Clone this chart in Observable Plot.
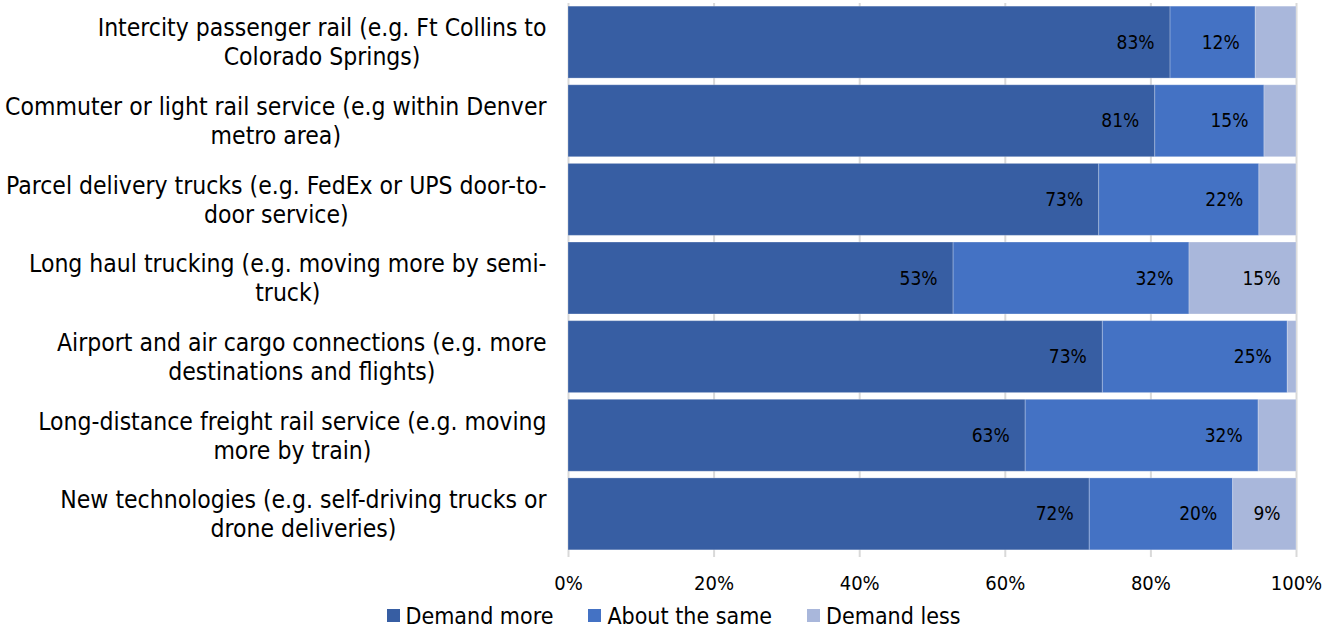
<!DOCTYPE html>
<html>
<head>
<meta charset="utf-8">
<script src="https://cdn.jsdelivr.net/npm/d3@7"></script>
<script src="https://cdn.jsdelivr.net/npm/@observablehq/plot@0.6"></script>
<style>
  html, body { margin: 0; padding: 0; background: #fff; }
  body { width: 1335px; font-family: "DejaVu Sans Condensed", "DejaVu Sans", sans-serif; }
  #legend { display: flex; justify-content: center; align-items: center; gap: 35px; height: 31px; font-size: 23px; color: #000; margin-left: 12px; }
  #legend .item { display: flex; align-items: center; gap: 6px; }
  #legend .sw { width: 13px; height: 13px; display: inline-block; }
</style>
</head>
<body>
<div id="chart"></div>
<div id="legend"></div>
<script>
const categories = [
  "Intercity passenger rail (e.g. Ft Collins to Colorado Springs)",
  "Commuter or light rail service (e.g within Denver metro area)",
  "Parcel delivery trucks (e.g. FedEx or UPS door-to-door service)",
  "Long haul trucking (e.g. moving more by semi-truck)",
  "Airport and air cargo connections (e.g. more destinations and flights)",
  "Long-distance freight rail service (e.g. moving more by train)",
  "New technologies (e.g. self-driving trucks or drone deliveries)"
];
const categoryLine1 = [
  "Intercity passenger rail (e.g. Ft Collins to",
  "Commuter or light rail service (e.g within Denver",
  "Parcel delivery trucks (e.g. FedEx or UPS door-to-",
  "Long haul trucking (e.g. moving more by semi-",
  "Airport and air cargo connections (e.g. more",
  "Long-distance freight rail service (e.g. moving",
  "New technologies (e.g. self-driving trucks or"
];
const categoryLine2 = [
  "Colorado Springs)",
  "metro area)",
  "door service)",
  "truck)",
  "destinations and flights)",
  "more by train)",
  "drone deliveries)"
];
const series = ["Demand more", "About the same", "Demand less"];
const demandMore = [82.7, 80.6, 72.9, 52.9, 73.4, 62.8, 71.6];
const aboutSame  = [11.7, 15.0, 22.0, 32.4, 25.4, 32.0, 19.7];
const demandLess = [5.6, 4.4, 5.1, 14.7, 1.2, 5.2, 8.7];
const seriesColors = ["#375EA3", "#4472C4", "#A9B7DB"];
const xTicks = [0, 20, 40, 60, 80, 100];
const xTickLabels = ["0%", "20%", "40%", "60%", "80%", "100%"];

const FONT = '"DejaVu Sans Condensed", "DejaVu Sans", sans-serif';
const LABEL_SIZE = 24.5;
const seriesValues = [demandMore, aboutSame, demandLess];
const rows = [];
categories.forEach((c, i) => {
  series.forEach((s, j) => rows.push({cat: c, series: s, value: seriesValues[j][i]}));
});

const ctx = document.createElement("canvas").getContext("2d");
ctx.font = `${LABEL_SIZE}px ${FONT}`;

const labelMarks = [];
categories.forEach((c, i) => {
  const w1 = ctx.measureText(categoryLine1[i]).width;
  labelMarks.push(Plot.text([c], {y: d => d, frameAnchor: "left", text: () => categoryLine1[i], textAnchor: "end", dx: -22, dy: -14, fontSize: LABEL_SIZE, fill: "#000"}));
  labelMarks.push(Plot.text([c], {y: d => d, frameAnchor: "left", text: () => categoryLine2[i], textAnchor: "middle", dx: -22 - w1 / 2, dy: 15, fontSize: LABEL_SIZE, fill: "#000"}));
});

const chart = Plot.plot({
  width: 1335,
  height: 600,
  marginLeft: 568,
  marginRight: 39,
  marginTop: 3,
  marginBottom: 47,
  style: {fontFamily: FONT, fontSize: "20px", color: "#000", background: "#fff"},
  x: {domain: [0, 100], axis: null, label: null},
  y: {domain: categories, axis: null, paddingInner: 0.085, paddingOuter: 0.04, round: false},
  color: {domain: series, range: seriesColors},
  marks: [
    Plot.gridX(xTicks, {stroke: "#d9d9d9", strokeOpacity: 1, strokeWidth: 2, insetBottom: -4}),
    Plot.barX(rows, Plot.stackX({x: "value", y: "cat", fill: "series", z: "series", stroke: "#fff", strokeOpacity: 0.25, strokeWidth: 1})),
    Plot.text(rows, Plot.stackX2({x: "value", y: "cat", z: "series", text: d => d.value >= 8 ? Math.round(d.value) + "%" : "", textAnchor: "end", dx: -16, fontSize: 19, fill: "#000"})),
    Plot.axisX(xTicks, {tickSize: 0, tickPadding: 22, label: null, tickFormat: d => xTickLabels[xTicks.indexOf(d)], fontSize: 20, fill: "#000"}),
    ...labelMarks
  ]
});
document.getElementById("chart").appendChild(chart);

const legend = document.getElementById("legend");
series.forEach((s, j) => {
  const item = document.createElement("div");
  item.className = "item";
  const sw = document.createElement("span");
  sw.className = "sw";
  sw.style.background = seriesColors[j];
  const t = document.createElement("span");
  t.textContent = s;
  item.appendChild(sw);
  item.appendChild(t);
  legend.appendChild(item);
});
</script>
</body>
</html>
